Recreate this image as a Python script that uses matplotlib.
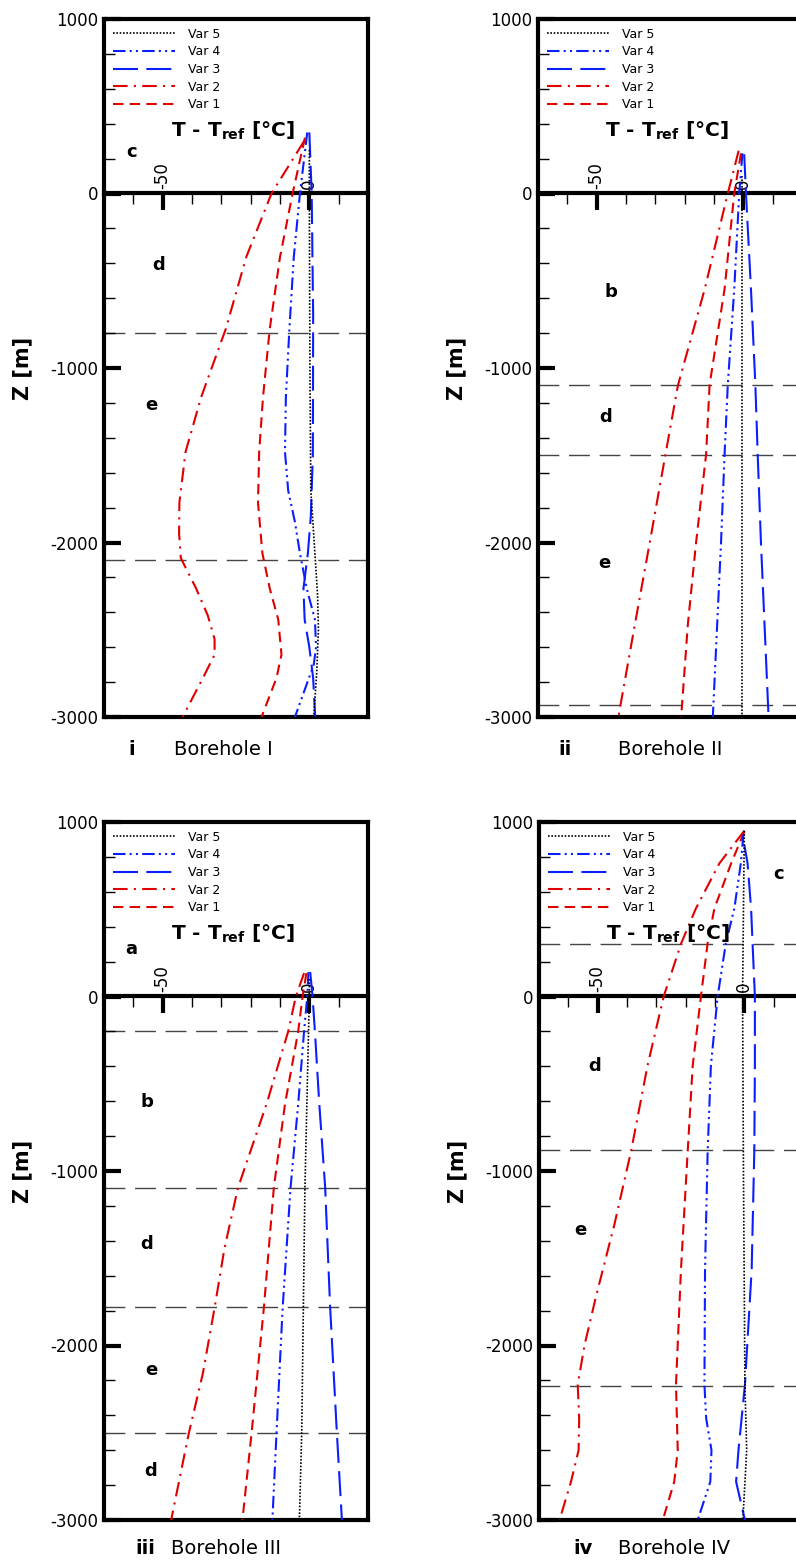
import matplotlib
matplotlib.use('Agg')
import matplotlib.pyplot as plt

plt.rcParams['axes.unicode_minus'] = False
plt.rcParams['font.family'] = ['DejaVu Sans']
plt.rcParams['mathtext.fontset'] = 'dejavusans'

# ---------------- data ----------------
VAR_LABELS = ['Var 1', 'Var 2', 'Var 3', 'Var 4', 'Var 5']
PANEL_TAGS = ['i', 'ii', 'iii', 'iv']
PANEL_TITLES = ['Borehole I', 'Borehole II', 'Borehole III', 'Borehole IV']

X_LIM = [-70, 20]
Y_LIM = [-3000, 1000]
X_MAJOR = [-50, 0]
X_MINOR = [-60, -40, -30, -20, -10, 10]
Y_MAJOR = [1000, 0, -1000, -2000, -3000]
Y_MINOR = [800, 600, 400, 200, -200, -400, -600, -800, -1200, -1400, -1600, -1800,
           -2200, -2400, -2600, -2800]

# Borehole I
B1_V1_Z = [320, 0, -364, -777, -1168, -1481, -1771, -2062, -2263, -2441, -2643, -2777, -3000]
B1_V1_T = [-1.5, -5.7, -10.0, -13.5, -15.8, -17.1, -17.5, -16.0, -13.5, -10.6, -9.5, -11.2, -16.3]
B1_V2_Z = [300, 0, -364, -777, -1168, -1481, -1771, -1950, -2090, -2263, -2419, -2553, -2643, -2777, -3000]
B1_V2_T = [-1.8, -12.9, -21.5, -28.5, -36.9, -42.2, -44.3, -44.4, -43.8, -38.6, -34.6, -32.3, -32.3, -36.3, -43.2]
B1_V3_Z = [350, 0, -700, -1500, -1850, -2062, -2263, -2441, -2600, -2777, -3000]
B1_V3_T = [0.0, 0.8, 1.3, 1.2, 0.5, -0.5, -2.0, -1.6, 0.0, 1.3, 2.0]
B1_V4_Z = [350, 0, -364, -777, -1168, -1481, -1704, -1883, -2062, -2263, -2441, -2600, -2700, -3000]
B1_V4_T = [-0.7, -3.2, -5.3, -6.8, -8.0, -8.3, -7.2, -4.9, -3.2, -0.9, 1.9, 2.3, 1.5, -4.9]
B1_V5_Z = [250, 0, -1000, -1700, -2062, -2300, -2500, -2750, -3000]
B1_V5_T = [0.0, 0.0, 0.2, 0.5, 1.9, 2.8, 3.1, 2.5, 1.5]

# Borehole II
B2_V1_Z = [230, 0, -548, -1096, -1497, -1998, -2467, -3000]
B2_V1_T = [-0.8, -3.1, -6.4, -11.5, -12.7, -16.1, -18.9, -21.2]
B2_V2_Z = [245, 0, -550, -1100, -1500, -2000, -2500, -3000]
B2_V2_T = [-1.6, -5.3, -13.2, -22.3, -26.6, -31.9, -37.3, -42.6]
B2_V3_Z = [225, 0, -548, -1096, -1497, -1998, -3000]
B2_V3_T = [0.3, 0.9, 2.6, 4.1, 4.9, 6.0, 8.6]
B2_V4_Z = [230, 0, -548, -1096, -1497, -1998, -3000]
B2_V4_T = [-0.3, -1.4, -3.1, -5.3, -6.4, -7.6, -10.4]
B2_V5_Z = [100, 0, -1000, -2000, -3000]
B2_V5_T = [-0.3, -0.3, -0.3, -0.3, -0.3]

# Borehole III
B3_V1_Z = [134, 0, -200, -617, -1095, -1784, -2504, -3000]
B3_V1_T = [-1.0, -2.3, -3.8, -8.3, -12.1, -15.5, -19.7, -22.8]
B3_V2_Z = [134, 0, -200, -617, -1095, -1440, -1784, -2160, -2504, -3000]
B3_V2_T = [-1.8, -4.6, -7.2, -14.6, -24.3, -28.9, -32.3, -36.3, -41.1, -47.1]
B3_V3_Z = [140, 0, -200, -617, -1095, -1784, -2504, -3000]
B3_V3_T = [0.3, 1.1, 1.9, 3.4, 5.4, 7.1, 9.4, 11.1]
B3_V4_Z = [140, 0, -200, -617, -1095, -1784, -2504, -3000]
B3_V4_T = [-0.3, -0.7, -1.8, -3.8, -6.4, -9.1, -11.2, -12.6]
B3_V5_Z = [100, 0, -1095, -2504, -3000]
B3_V5_T = [0.0, 0.0, -1.5, -2.6, -3.4]

# Borehole IV
B4_V1_Z = [945, 763, 505, 306, 0, -396, -885, -1565, -2225, -2600, -2781, -3000]
B4_V1_T = [0.0, -4.5, -10.2, -12.5, -14.8, -17.6, -19.3, -21.6, -23.3, -22.7, -23.9, -27.8]
B4_V2_Z = [950, 763, 505, 306, 0, -396, -885, -1307, -1721, -2000, -2225, -2419, -2600, -2781, -3000]
B4_V2_T = [0.0, -8.5, -16.5, -21.5, -27.5, -33.0, -38.6, -44.3, -50.6, -54.5, -56.8, -56.3, -56.5, -59.1, -63.0]
B4_V3_Z = [870, 763, 505, 306, 0, -396, -885, -1565, -2225, -2600, -2781, -3000]
B4_V3_T = [0.0, 1.1, 2.3, 2.8, 3.6, 3.6, 3.4, 2.5, 0.2, -2.0, -2.8, 0.2]
B4_V4_Z = [930, 763, 505, 306, 0, -396, -885, -1565, -2225, -2419, -2600, -2781, -3000]
B4_V4_T = [-0.3, -1.2, -3.4, -6.3, -9.1, -11.4, -12.5, -13.4, -13.6, -13.0, -11.2, -11.6, -15.9]
B4_V5_Z = [950, 500, 0, -1000, -2225, -2600, -3000]
B4_V5_T = [0.0, -0.3, -0.6, -0.3, 0.2, 0.8, -0.5]

# layer boundaries and layer labels
B1_BOUNDS = [-800, -2100]
B2_BOUNDS = [-1100, -1500, -2930]
B3_BOUNDS = [-200, -1100, -1780, -2500]
B4_BOUNDS = [300, -880, -2230]

B1_LAYER_TEXT = ['c', 'd', 'e']
B1_LAYER_T = [-60.5, -51.5, -54.0]
B1_LAYER_Z = [240, -410, -1212]
B2_LAYER_TEXT = ['b', 'd', 'e']
B2_LAYER_T = [-45.0, -47.0, -47.5]
B2_LAYER_Z = [-566, -1280, -2115]
B3_LAYER_TEXT = ['a', 'b', 'd', 'e', 'd']
B3_LAYER_T = [-60.8, -55.5, -55.5, -54.0, -54.0]
B3_LAYER_Z = [270, -607, -1420, -2140, -2720]
B4_LAYER_TEXT = ['c', 'd', 'e']
B4_LAYER_T = [11.5, -51.0, -56.0]
B4_LAYER_Z = [700, -400, -1340]

# ---------------- styling ----------------
RED = '#e00000'
BLUE = '#0a1eff'
STYLES = {
    'Var 1': dict(color=RED, lw=1.5, ls=(0, (5, 3))),
    'Var 2': dict(color=RED, lw=1.5, ls=(0, (7, 3, 1, 3))),
    'Var 3': dict(color=BLUE, lw=1.5, ls=(0, (12, 4))),
    'Var 4': dict(color=BLUE, lw=1.5, ls=(0, (6, 2, 1, 2, 1, 2))),
    'Var 5': dict(color='black', lw=1.2, ls=(0, (1, 1))),
}

panels = [
    ([B1_V1_Z, B1_V2_Z, B1_V3_Z, B1_V4_Z, B1_V5_Z], [B1_V1_T, B1_V2_T, B1_V3_T, B1_V4_T, B1_V5_T],
     B1_BOUNDS, B1_LAYER_TEXT, B1_LAYER_T, B1_LAYER_Z),
    ([B2_V1_Z, B2_V2_Z, B2_V3_Z, B2_V4_Z, B2_V5_Z], [B2_V1_T, B2_V2_T, B2_V3_T, B2_V4_T, B2_V5_T],
     B2_BOUNDS, B2_LAYER_TEXT, B2_LAYER_T, B2_LAYER_Z),
    ([B3_V1_Z, B3_V2_Z, B3_V3_Z, B3_V4_Z, B3_V5_Z], [B3_V1_T, B3_V2_T, B3_V3_T, B3_V4_T, B3_V5_T],
     B3_BOUNDS, B3_LAYER_TEXT, B3_LAYER_T, B3_LAYER_Z),
    ([B4_V1_Z, B4_V2_Z, B4_V3_Z, B4_V4_Z, B4_V5_Z], [B4_V1_T, B4_V2_T, B4_V3_T, B4_V4_T, B4_V5_T],
     B4_BOUNDS, B4_LAYER_TEXT, B4_LAYER_T, B4_LAYER_Z),
]

W, H = 796, 1562
fig = plt.figure(figsize=(W / 100, H / 100), dpi=100)

# axes boxes in pixels: left, top, width, height
boxes = [(104, 19, 264, 698), (538, 19, 264, 698), (104, 822, 264, 698), (539, 822, 264, 698)]
# caption positions (pixels): tag centre x, title left x, y centre
captions = [(132, 174, 750), (565, 618, 750), (145, 171, 1549), (583, 618, 1549)]

for k, (zs, ts, bounds, ltxt, lt, lz) in enumerate(panels):
    l, t, w, h = boxes[k]
    ax = fig.add_axes([l / W, 1 - (t + h) / H, w / W, h / H])
    ax.set_xlim(X_LIM)
    ax.set_ylim(Y_LIM)

    for b in bounds:
        ax.axhline(b, color='#444444', lw=1.0, ls=(0, (15, 7)), zorder=1)

    handles = {}
    for name, z, tt in zip(VAR_LABELS, zs, ts):
        st = STYLES[name]
        ln, = ax.plot(tt, z, color=st['color'], lw=st['lw'], linestyle=st['ls'], label=name, zorder=3)
        handles[name] = ln

    for s, xv, zv in zip(ltxt, lt, lz):
        ax.text(xv, zv, s, fontsize=13, fontweight='bold', ha='center', va='center')

    order = ['Var 5', 'Var 4', 'Var 3', 'Var 2', 'Var 1']
    ax.legend([handles[n] for n in order], order, loc='upper left', frameon=False, fontsize=9,
              handlelength=5, handletextpad=1.0, labelspacing=0.37, borderaxespad=0.4,
              borderpad=0.3)

    for sp in ax.spines.values():
        sp.set_linewidth(3)

    ax.set_xticks([])
    ax.set_yticks(Y_MAJOR)
    ax.set_yticks(Y_MINOR, minor=True)
    ax.tick_params(axis='y', which='major', direction='in', length=12, width=3, labelsize=12, pad=4)
    ax.tick_params(axis='y', which='minor', direction='in', length=8, width=1)
    ax.set_ylabel('Z [m]', fontsize=15, fontweight='bold')
    ax.yaxis.set_label_coords(-0.27, 0.5)

    sec = ax.secondary_xaxis(0, transform=ax.transData)
    sec.set_alignment('top')
    sec.spines['top'].set_linewidth(3)
    sec.set_xticks(X_MAJOR)
    sec.set_xticks(X_MINOR, minor=True)
    sec.tick_params(axis='x', which='major', direction='in', length=12, width=3, labelsize=12,
                    pad=3, labelrotation=90)
    sec.tick_params(axis='x', which='minor', direction='in', length=8, width=1)

    ax.text(0.49, 0.84, r'T - T$_{\mathbf{ref}}$ [°C]', transform=ax.transAxes, fontsize=14.5,
            fontweight='bold', ha='center', va='center')

    cx, tx, cy = captions[k]
    fig.text(cx / W, 1 - cy / H, PANEL_TAGS[k], fontsize=14, fontweight='bold', ha='center', va='center')
    fig.text(tx / W, 1 - cy / H, PANEL_TITLES[k], fontsize=14, ha='left', va='center')

fig.savefig('out.png', dpi=100)
